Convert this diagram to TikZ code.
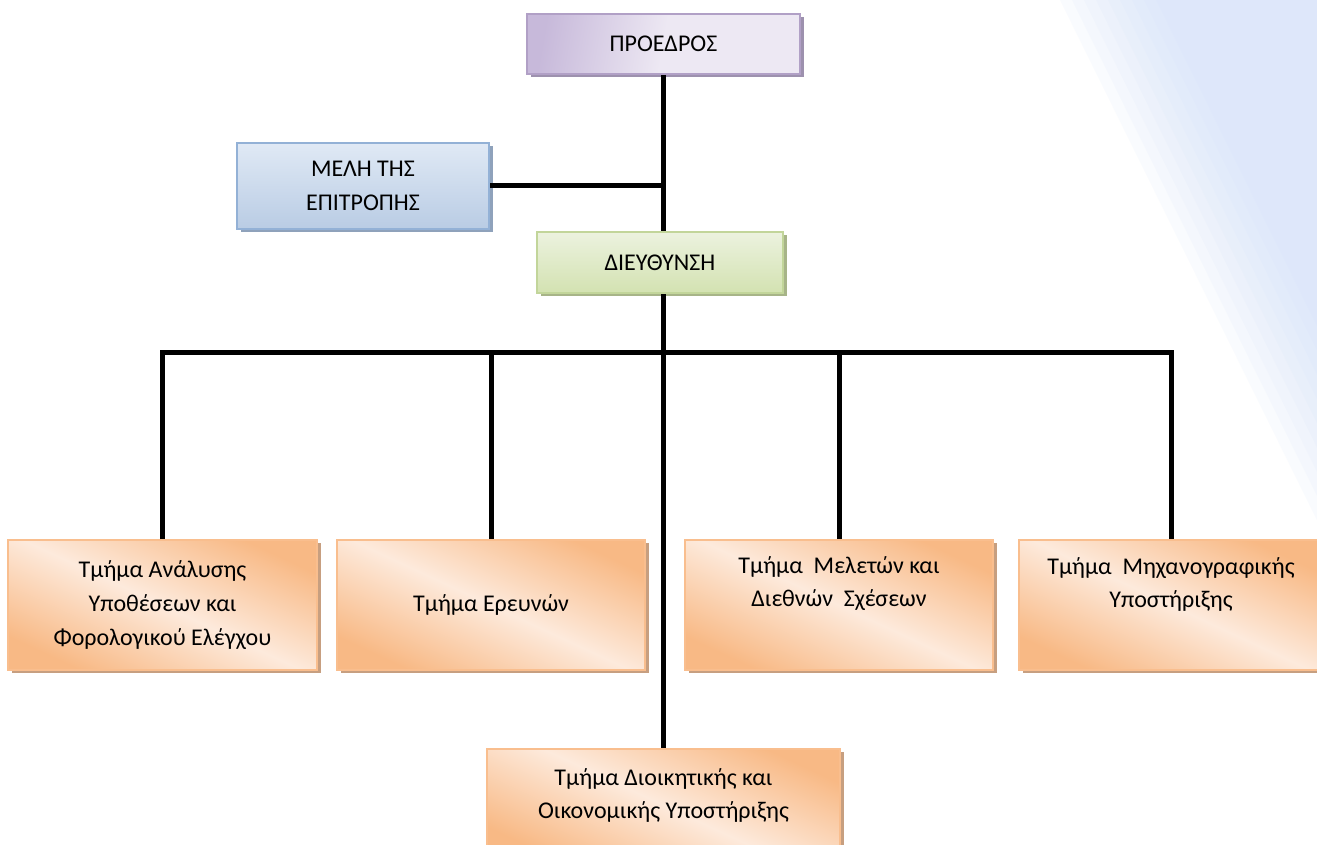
\documentclass[tikz,border=0pt]{standalone}
\usepackage{fontspec}
\setmainfont{Carlito}
\usetikzlibrary{calc}

\definecolor{orBorder}{HTML}{F9BE8E}
\definecolor{orDark}{HTML}{F8B985}
\definecolor{orLight}{HTML}{FDEADC}
\definecolor{orShadow}{HTML}{C79F80}
\definecolor{puBorder}{HTML}{B1A0C6}
\definecolor{puDark}{HTML}{C7B9DA}
\definecolor{puLight}{HTML}{EDE8F3}
\definecolor{puShadow}{HTML}{9D91AE}
\definecolor{blBorder}{HTML}{93B1D6}
\definecolor{blTop}{HTML}{E0E9F5}
\definecolor{blBottom}{HTML}{B9CCE4}
\definecolor{blShadow}{HTML}{8FA2BB}
\definecolor{grBorder}{HTML}{C2D59A}
\definecolor{grTop}{HTML}{ECF2DF}
\definecolor{grBottom}{HTML}{D3E2B1}
\definecolor{grShadow}{HTML}{A7B488}
\definecolor{bandblue}{HTML}{D0DFFA}

\tikzset{
  x=1pt, y=-1pt,
  boxbase/.style={rectangle, line width=2pt, inner sep=0pt, align=center,
    font=\fontsize{24pt}{34pt}\selectfont},
  orangebox/.style={boxbase, draw=orBorder,
    top color=orDark, bottom color=orDark, middle color=orLight, shading angle=-25,
    preaction={fill=orShadow, transform canvas={xshift=4pt, yshift=-3pt}}},
  purplebox/.style={boxbase, draw=puBorder,
    left color=puDark, right color=puLight, middle color=puLight, shading angle=80,
    preaction={fill=puShadow, transform canvas={xshift=4pt, yshift=-3pt}}},
  bluebox/.style={boxbase, draw=blBorder, top color=blTop, bottom color=blBottom,
    preaction={fill=blShadow, transform canvas={xshift=4pt, yshift=-3pt}}},
  greenbox/.style={boxbase, draw=grBorder, top color=grTop, bottom color=grBottom,
    preaction={fill=grShadow, transform canvas={xshift=4pt, yshift=-3pt}}},
  boxtext/.style={align=center, inner sep=0pt, font=\fontsize{24pt}{33pt}\selectfont},
  conn/.style={line width=5pt, line join=miter, black}
}

\begin{document}
\begin{tikzpicture}
\useasboundingbox (0,0) rectangle (1317,845);
\fill[white] (0,0) rectangle (1317,845);

% soft diagonal band in the upper right corner
\foreach \s in {0,12,...,96}{
  \fill[bandblue, opacity=0.11] ({1060+\s},0) -- (1317,0) -- (1317,{(257-\s)/0.494}) -- cycle;
}

% upper part of the chart
\node[purplebox, minimum width=273pt, minimum height=60pt] (pres) at (663.5,44) {ΠΡΟΕΔΡΟΣ};
\node[bluebox, minimum width=252pt, minimum height=86pt] (mel) at (363,186) {ΜΕΛΗ ΤΗΣ\\ΕΠΙΤΡΟΠΗΣ};
\node[greenbox, minimum width=246pt, minimum height=61pt] (dir) at (660,262.5) {ΔΙΕΥΘΥΝΣΗ};

% departments
\node[orangebox, minimum width=309pt, minimum height=130pt] (b1) at (162.5,605)
  {Τμήμα Ανάλυσης\\Υποθέσεων και\\Φορολογικού Ελέγχου};
\node[orangebox, minimum width=308pt, minimum height=130pt] (b2) at (491,605) {Τμήμα Ερευνών};
\node[orangebox, minimum width=308pt, minimum height=130pt] (b3) at (839,605) {};
\node[boxtext] (t3) at (839,584) {Τμήμα\ \ Μελετών και\\Διεθνών\ \ Σχέσεων};
\node[orangebox, minimum width=304pt, minimum height=130pt] (b4) at (1171,605) {};
\node[boxtext] (t4) at (1171,584) {Τμήμα\ \ Μηχανογραφικής\\Υποστήριξης};
\node[orangebox, minimum width=353pt, minimum height=112pt] (b5) at (663.5,805) {};
\node[boxtext] (t5) at (663.5,795) {Τμήμα Διοικητικής και\\Οικονομικής Υποστήριξης};

% connectors
\coordinate (bar) at (662,352);
\draw[conn] (pres.south) -- (pres.south |- dir.north);
\draw[conn] (mel.east) -- (mel.east -| pres.south);
\draw[conn] (dir.south -| pres.south) -- (pres.south |- b5.north);
\draw[conn] (b1.north) -- (b1.north |- bar) -- (b4.north |- bar) -- (b4.north);
\draw[conn] (b2.north |- bar) -- (b2.north);
\draw[conn] (b3.north |- bar) -- (b3.north);
\end{tikzpicture}
\end{document}
